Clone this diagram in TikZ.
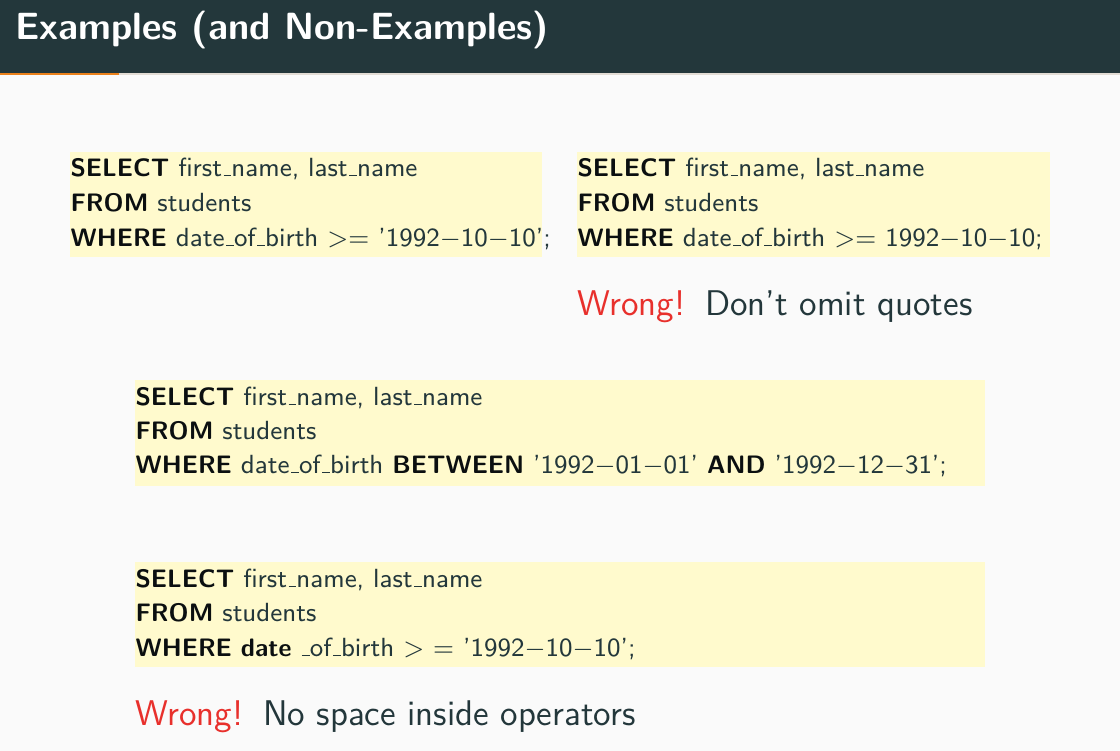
\documentclass[tikz,border=0pt]{standalone}
\usepackage{xcolor}
\definecolor{mtitle}{HTML}{23373B}
\definecolor{morange}{HTML}{EB811B}
\definecolor{mbar}{HTML}{E2DCD4}
\definecolor{mbg}{HTML}{FAFAFA}
\definecolor{codebg}{HTML}{FFFACD}
\definecolor{wrongred}{RGB}{232,48,44}
\definecolor{kwcol}{HTML}{0B0F10}
\newcommand{\kwd}[1]{{\color{kwcol}\fontsize{8.65}{12}\bfseries #1}}
\newcommand{\dsh}{$-$}
\newcommand{\us}{\leavevmode\kern.06em\vbox{\hrule width.3em height.45pt}}
\tikzset{
  codebox/.style={fill=codebg,draw=none},
  codeline/.style={anchor=base west,inner sep=0pt,text=mtitle,font=\sffamily\fontsize{9}{12}\selectfont},
  remark/.style={anchor=base west,inner sep=0pt,text=mtitle,font=\sffamily\fontsize{12.25}{14}\selectfont},
  titletext/.style={anchor=base west,inner sep=0pt,text=white,font=\sffamily\fontsize{13}{15}\bfseries}
}
\begin{document}
\begin{tikzpicture}[x=0.34295pt,y=-0.34295pt]
\useasboundingbox (0,0) rectangle (1120,751);
\fill[mbg] (0,0) rectangle (1120,751);
% title bar
\fill[mtitle] (0,0) rectangle (1120,73);
\fill[mbar] (0,73) rectangle (1120,75);
\fill[morange] (0,73) rectangle (119,75);
\node[titletext] (title) at (15,39) {Examples (and Non-Examples)};
% boxes
\fill[codebox] (70,152) rectangle (542,257);
\fill[codebox] (577,152) rectangle (1050,257);
\fill[codebox] (135,380) rectangle (985,486);
\fill[codebox] (135,562) rectangle (985,667);
% box 1
\node[codeline] (a1) at (70,176) {\kwd{SELECT} first\us name, last\us name};
\node[codeline] (a2) at (70,211) {\kwd{FROM} students};
\node[codeline] (a3) at (70,246) {\kwd{WHERE} date\us of\us birth $>=$ ’1992\dsh10\dsh10’;};
% box 2
\node[codeline] (b1) at (577,176) {\kwd{SELECT} first\us name, last\us name};
\node[codeline] (b2) at (577,211) {\kwd{FROM} students};
\node[codeline] (b3) at (577,246) {\kwd{WHERE} date\us of\us birth $>=$ 1992\dsh10\dsh10;};
\node[remark] (r1) at (577,315) {\textcolor{wrongred}{Wrong!}\hspace{1.5pt} Don’t omit quotes};
% box 3
\node[codeline] (c1) at (135,405) {\kwd{SELECT} first\us name, last\us name};
\node[codeline] (c2) at (135,439) {\kwd{FROM} students};
\node[codeline] (c3) at (135,473) {\kwd{WHERE} date\us of\us birth \kwd{BETWEEN} ’1992\dsh01\dsh01’ \kwd{AND} ’1992\dsh12\dsh31’;};
% box 4
\node[codeline] (d1) at (135,587) {\kwd{SELECT} first\us name, last\us name};
\node[codeline] (d2) at (135,621) {\kwd{FROM} students};
\node[codeline] (d3) at (135,656) {\kwd{WHERE} \kwd{date} \us of\us birth $>$ $=$ ’1992\dsh10\dsh10’;};
\node[remark] (r2) at (135,725) {\textcolor{wrongred}{Wrong!}\hspace{1.5pt} No space inside operators};
\end{tikzpicture}
\end{document}
